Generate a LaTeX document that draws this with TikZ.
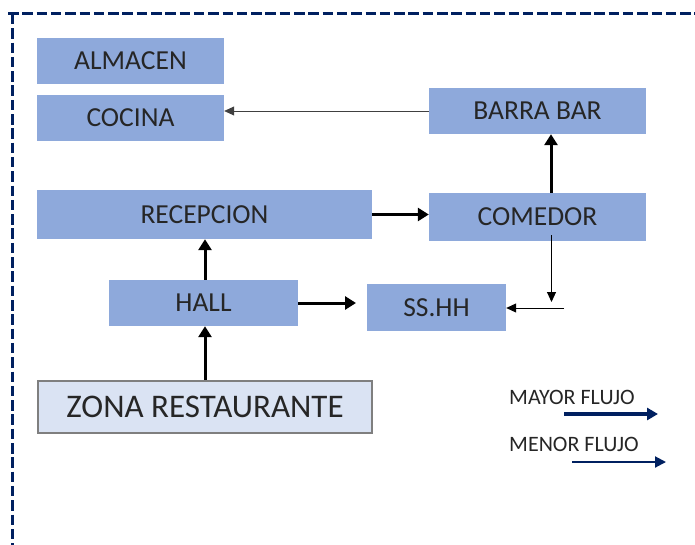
\documentclass[tikz,border=0pt]{standalone}
\usepackage{fontspec}
\setmainfont{Carlito}
\usetikzlibrary{arrows.meta}
\definecolor{boxblue}{RGB}{142,169,219}
\definecolor{zonafill}{RGB}{218,227,243}
\definecolor{zonaline}{RGB}{127,127,127}
\definecolor{navy}{RGB}{0,32,96}
\tikzset{
  area/.style={fill=boxblue, draw=none, inner sep=0pt, font=\fontsize{27.5}{31}\selectfont, text=black!85},
  zona/.style={fill=zonafill, draw=zonaline, line width=2.6pt, inner sep=0pt, font=\fontsize{33}{36}\selectfont, text=black!85},
  major/.style={line width=3pt, -{Triangle[length=11pt,width=13pt]}},
  minor/.style={line width=1pt, -{Triangle[length=10pt,width=9pt]}},
  border/.style={navy, line width=3pt, dash pattern=on 10.5pt off 3.8pt},
  legtext/.style={font=\fontsize{22}{24}\selectfont, text=black!85, inner sep=0pt, anchor=west},
  legmajor/.style={navy, line width=3.2pt, -{Triangle[length=11pt,width=12pt]}},
  legminor/.style={navy, line width=2pt, -{Triangle[length=11pt,width=11pt]}}
}
\begin{document}
\begin{tikzpicture}[x=1pt,y=-1pt]
\useasboundingbox (0,0) rectangle (695,545);
% dashed frame
\coordinate (fa) at (8,14);
\coordinate (fb) at (700,14);
\coordinate (fc) at (12,14);
\coordinate (fd) at (12,550);
\draw[border] (fa) -- (fb);
\draw[border] (fc) -- (fd);
% boxes
\node[area, minimum width=187, minimum height=46] (almacen) at (130.5,61) {ALMACEN};
\node[area, minimum width=187, minimum height=46] (cocina) at (130.5,118) {COCINA};
\node[area, minimum width=217, minimum height=46] (barra) at (537.5,111) {BARRA BAR};
\node[area, minimum width=335, minimum height=49] (recepcion) at (204.5,214.5) {RECEPCION};
\node[area, minimum width=217, minimum height=48] (comedor) at (537.5,217) {COMEDOR};
\node[area, minimum width=189, minimum height=46] (hall) at (203.5,303) {HALL};
\node[area, minimum width=139, minimum height=47] (sshh) at (436.5,307.5) {SS.HH};
\node[zona, minimum width=334, minimum height=52] (zona) at (205,407) {ZONA RESTAURANTE};
% connectors
\draw[minor, line width=0.8pt, black!75] (barra.west) -- (barra.west -| cocina.east);
\draw[major] ([xshift=13.5]comedor.north) -- ([xshift=13.5]barra.south);
\draw[major] (recepcion.east) -- (recepcion.east -| comedor.west);
\draw[major] ([xshift=1.5]hall.north) -- ([xshift=1.5]hall.north |- recepcion.south);
\coordinate (hs) at (356,303);
\draw[major] (hall.east) -- (hs);
\draw[major] (zona.north) -- (zona.north |- hall.south);
\coordinate (cd) at (551.5,302);
\draw[minor] ([yshift=6]comedor.south -| cd) -- (cd);
\coordinate (cs) at (564,308);
\draw[minor] (cs) -- (cs -| sshh.east);
% legend
\node[legtext] (lmay) at (509,397) {MAYOR FLUJO};
\node[legtext] (lmen) at (509,444) {MENOR FLUJO};
\coordinate (a1) at (564,414);
\coordinate (a2) at (658,414);
\coordinate (b1) at (572,462);
\coordinate (b2) at (666,462);
\draw[legmajor] (a1) -- (a2);
\draw[legminor] (b1) -- (b2);
\end{tikzpicture}
\end{document}
